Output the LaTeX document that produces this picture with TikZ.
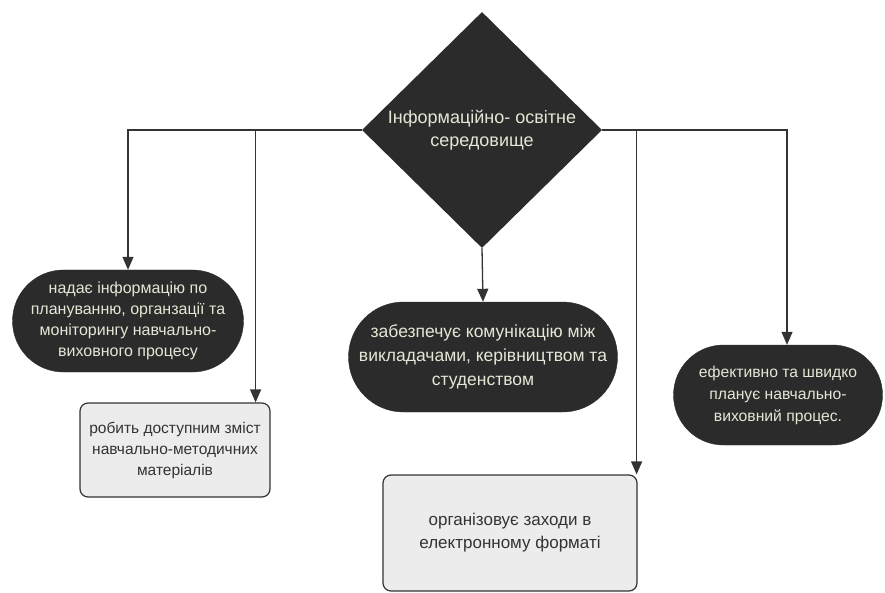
\documentclass[tikz,border=0pt]{standalone}
\usepackage{fontspec}
\setmainfont{Liberation Sans}
\usetikzlibrary{shapes.geometric,shapes.misc,arrows.meta}
\definecolor{darkfill}{HTML}{2B2B2B}
\definecolor{lighttext}{HTML}{E6E6D6}
\definecolor{boxfill}{HTML}{ECECEC}
\definecolor{linecol}{HTML}{333333}
\begin{document}
\begin{tikzpicture}[x=1pt,y=-1pt,
  stadium/.style={rounded rectangle, fill=darkfill, draw=darkfill, text=lighttext,
    align=center, inner sep=2pt},
  lightbox/.style={rectangle, rounded corners=8pt, fill=boxfill, draw=linecol, line width=1.2pt,
    text=black!80, align=center},
  conn/.style={draw=linecol, line width=1.3pt, -{Triangle[width=11pt,length=13pt]}}]
\useasboundingbox (0,0) rectangle (885,593);
\node[diamond, fill=darkfill, inner sep=0pt, minimum width=240pt, minimum height=236pt,
  text=lighttext, align=center, font=\fontsize{18}{23}\selectfont] (d) at (482,130)
  {Інформаційно- освітне\\середовище};
\node[stadium, minimum width=235pt, minimum height=102pt, font=\fontsize{16}{21}\selectfont] (n1) at (128,321)
  {надає інформацію по\\плануванню, органзації та\\моніторингу навчально-\\виховного процесу};
\node[lightbox, minimum width=190pt, minimum height=94pt, font=\fontsize{15.5}{21}\selectfont] (r1) at (175,450)
  {робить доступним зміст\\навчально-методичних\\матеріалів};
\node[stadium, minimum width=273pt, minimum height=110pt, font=\fontsize{17.5}{24}\selectfont] (n2) at (483,357)
  {забезпечує комунікацію між\\викладачами, керівництвом та\\студенством};
\node[stadium, minimum width=213pt, minimum height=100pt, font=\fontsize{15.7}{22}\selectfont] (n3) at (778,395)
  {ефективно та швидко\\планує навчально-\\виховний процес.};
\node[lightbox, minimum width=254pt, minimum height=116pt, font=\fontsize{17}{23}\selectfont] (r2) at (510,533)
  {організовує заходи в\\електронному форматі};
\draw[conn] (d.west) -| (n1.north);
\draw[conn] (d.west) -| ([xshift=-15pt]r1.north east);
\draw[conn] (d.south) -- (n2.north);
\draw[conn] (d.east) -| ([xshift=9pt]n3.north);
\draw[conn] (d.east) -| ([xshift=-1pt]r2.north east);
\end{tikzpicture}
\end{document}
